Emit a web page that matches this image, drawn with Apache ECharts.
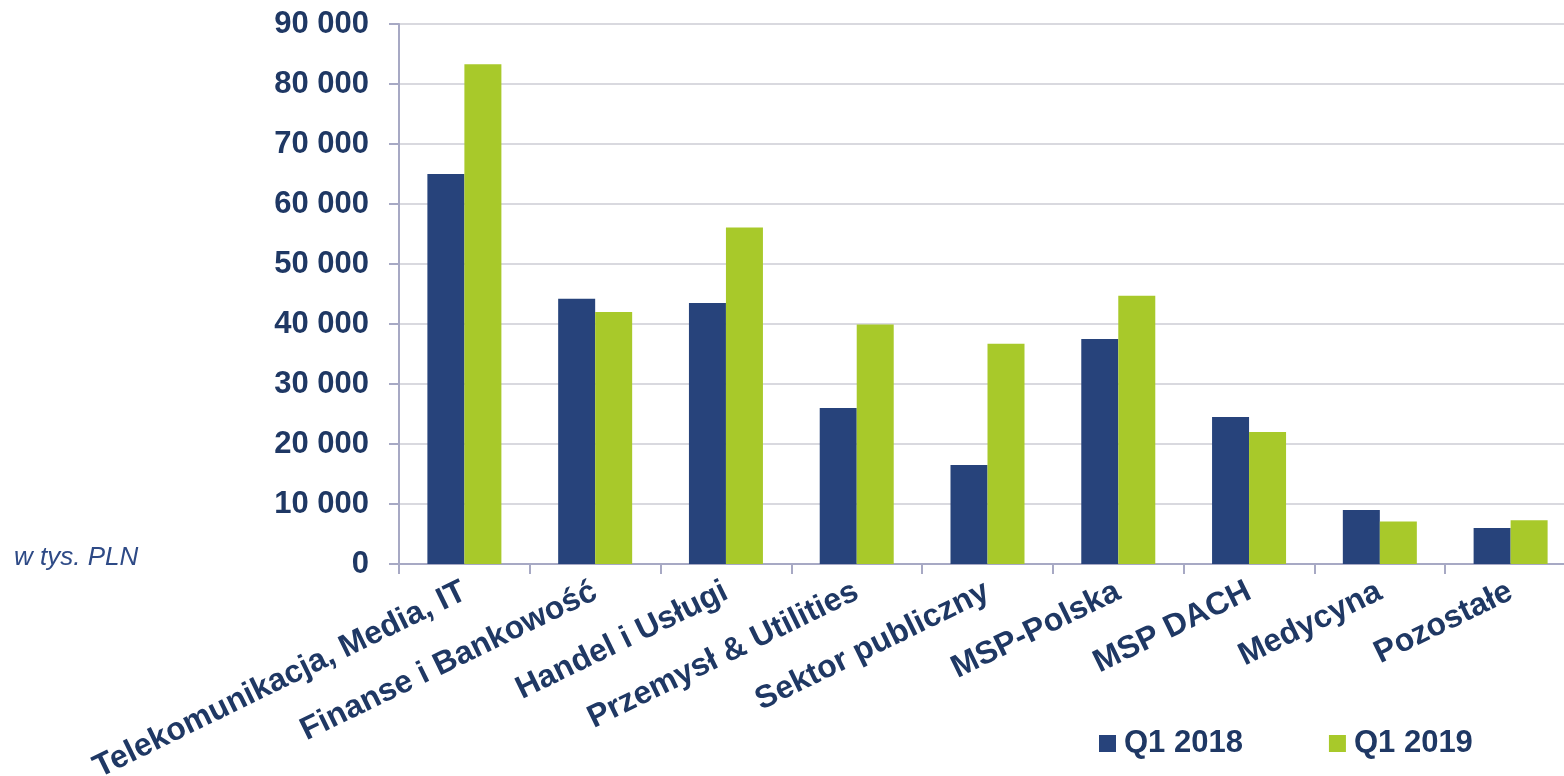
<!DOCTYPE html>
<html>
<head>
<meta charset="utf-8">
<script src="https://cdn.jsdelivr.net/npm/echarts@6/dist/echarts.min.js"></script>
<style>
  html, body { margin: 0; padding: 0; background: #fff; }
  #chart { width: 1564px; height: 776px; }
</style>
</head>
<body>
<div id="chart"></div>
<script>
// dane (w tys. PLN)
const categories = [
  "Telekomunikacja, Media, IT",
  "Finanse i Bankowość",
  "Handel i Usługi",
  "Przemysł & Utilities",
  "Sektor publiczny",
  "MSP-Polska",
  "MSP DACH",
  "Medycyna",
  "Pozostałe"
];
const q1_2018 = [65000, 44200, 43500, 26000, 16500, 37500, 24500, 9000, 6000];
const q1_2019 = [83300, 42000, 56100, 39900, 36700, 44700, 22000, 7100, 7300];
const seriesNames = ["Q1 2018", "Q1 2019"];

const navy = "#1F3864";
const myChart = echarts.init(document.getElementById("chart"));

const option = {
  animation: false,
  textStyle: { fontFamily: "Liberation Sans, Arial, sans-serif" },
  grid: {
    left: 399,
    right: -12,
    top: 24,
    bottom: 212,
    outerBoundsMode: "none"
  },
  legend: {
    bottom: 12,
    left: 1094,
    itemWidth: 17,
    itemHeight: 17,
    itemGap: 86,
    icon: "rect",
    textStyle: { color: navy, fontSize: 31, fontWeight: "bold", padding: [0, 0, 0, 3] },
    data: seriesNames
  },
  graphic: [
    {
      type: "text",
      left: 14,
      top: 545,
      style: {
        text: "w tys. PLN",
        fill: "#2E4A86",
        font: "italic 26px Liberation Sans, Arial, sans-serif"
      }
    }
  ],
  xAxis: {
    type: "category",
    data: categories,
    axisLine: { lineStyle: { color: "#A7A9C4", width: 2 } },
    axisTick: { show: true, length: 10, lineStyle: { color: "#A7A9C4", width: 2 } },
    axisLabel: {
      rotate: 26,
      interval: 0,
      margin: 26,
      color: navy,
      fontSize: 32,
      fontWeight: "bold"
    }
  },
  yAxis: {
    type: "value",
    min: 0,
    max: 90000,
    interval: 10000,
    axisLine: { show: true, lineStyle: { color: "#A7A9C4", width: 2 } },
    axisTick: { show: true, length: 10, lineStyle: { color: "#A7A9C4", width: 2 } },
    splitLine: { lineStyle: { color: "#D9D9DF", width: 2 } },
    axisLabel: {
      margin: 30,
      color: navy,
      fontSize: 31,
      fontWeight: "bold",
      formatter: function (v) {
        return String(v).replace(/\B(?=(\d{3})+(?!\d))/g, " ");
      }
    }
  },
  series: [
    {
      name: seriesNames[0],
      type: "bar",
      data: q1_2018,
      barWidth: 37,
      barGap: "0%",
      itemStyle: { color: "#27437B" }
    },
    {
      name: seriesNames[1],
      type: "bar",
      data: q1_2019,
      barWidth: 37,
      itemStyle: { color: "#A8C92A" }
    }
  ]
};
myChart.setOption(option);
</script>
</body>
</html>
